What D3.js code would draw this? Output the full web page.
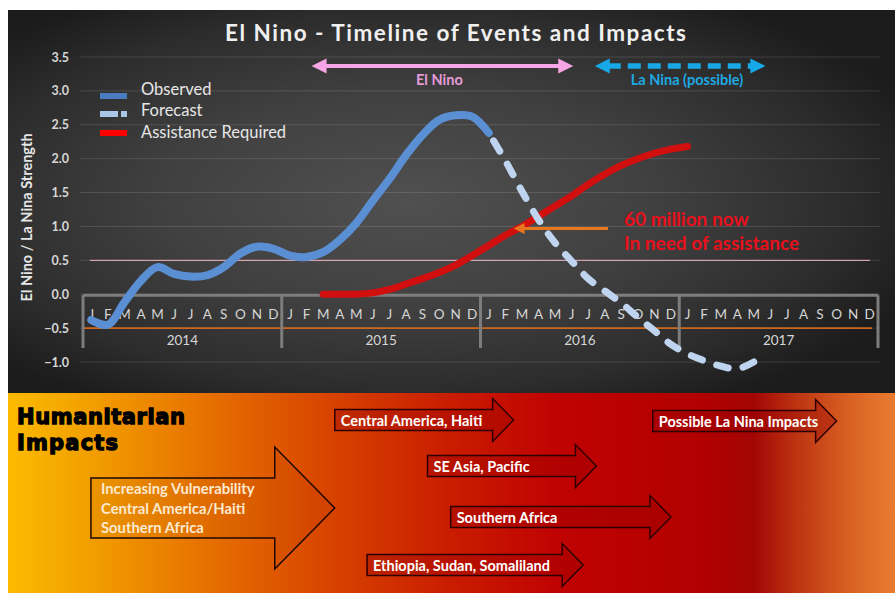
<!DOCTYPE html>
<html><head><meta charset="utf-8">
<script src="https://cdn.jsdelivr.net/npm/d3@7"></script>
<style>body{margin:0;background:#fff} svg{display:block}</style>
</head><body>
<svg id="c" width="895" height="594"></svg>
<script>
// ---------- DATA ----------
const months = ["J","F","M","A","M","J","J","A","S","O","N","D"];
const years = ["2014","2015","2016","2017"];
const yTicks = [-1.0,-0.5,0.0,0.5,1.0,1.5,2.0,2.5,3.0,3.5];
// Observed: Jan 2014 .. Jan 2016 (month index 0..24)
const observed = [-0.38,-0.45,-0.12,0.2,0.4,0.3,0.26,0.28,0.4,0.6,0.7,0.67,
                  0.57,0.55,0.62,0.8,1.05,1.38,1.7,2.05,2.35,2.57,2.64,2.62,
                  2.38];
const observedStart = 0;
// Forecast: Jan 2016 .. May 2017
const forecast = [2.38,1.97,1.52,1.1,0.76,0.49,0.23,0.05,-0.13,-0.34,-0.54,-0.74,
                  -0.88,-0.98,-1.06,-1.1,-1.0];
const forecastStart = 24;
// Assistance required: Mar 2015 .. Jan 2017
const assistance = [0.0,0.0,0.0,0.02,0.07,0.15,0.23,0.32,0.43,0.57,0.72,0.87,
                    1.0,1.15,1.3,1.45,1.62,1.77,1.9,2.0,2.08,2.14,2.18];
const assistanceStart = 14;
// Event periods (month index)
const elNinoSpan = [13.8, 29.6];
const laNinaSpan = [30.9, 41.2];
// Humanitarian impacts (month index start / end)
const impactLabels = ["Central America, Haiti","SE Asia, Pacific","Southern Africa",
                      "Ethiopia, Sudan, Somaliland","Possible La Nina Impacts"];
const impactStart = [15.2, 20.8, 22.2, 17.15, 34.4];
const impactEnd   = [26.0, 31.0, 35.5, 30.2, 45.5];
const vulnLines = ["Increasing Vulnerability","Central America/Haiti","Southern Africa"];
const vulnSpan = [0.48, 15.2];
const noteLines = ["60 million now","In need of assistance"];
const noteArrow = [31.7, 26.0, 0.97]; // from month, to month, value

// ---------- LAYOUT ----------
const svg = d3.select("#c");
const W = 895, H = 594;
const x = d3.scaleLinear().domain([0, 48]).range([83, 878]);
const y = d3.scaleLinear().domain([-1, 3.5]).range([362, 57]);
const mx = i => x(i + 0.5);
const FONT = "Lato, 'Open Sans', sans-serif";

const defs = svg.append("defs");
const rg = defs.append("radialGradient").attr("id","bg")
  .attr("cx","0.45").attr("cy","0.5").attr("r","0.62");
[[0,"#505050"],[0.45,"#404040"],[0.8,"#2c2c2c"],[1,"#1c1c1c"]].forEach(s=>
  rg.append("stop").attr("offset",s[0]).attr("stop-color",s[1]));
const lg = defs.append("linearGradient").attr("id","hum").attr("x1","0").attr("x2","1").attr("y1","0").attr("y2","0");
[[0,"#fbba00"],[0.07,"#f4a600"],[0.22,"#e77200"],[0.36,"#d84400"],[0.5,"#c91c00"],
 [0.62,"#c00202"],[0.78,"#b20000"],[0.84,"#a30505"],[0.89,"#bd3512"],[0.95,"#da6224"],[1,"#e97b30"]]
 .forEach(s=>lg.append("stop").attr("offset",s[0]).attr("stop-color",s[1]));

svg.append("rect").attr("x",8).attr("y",10).attr("width",W-8).attr("height",383).attr("fill","url(#bg)");
svg.append("rect").attr("x",8).attr("y",393).attr("width",W-8).attr("height",200).attr("fill","url(#hum)");

// title
svg.append("text").attr("x",455.5).attr("y",40.5).attr("text-anchor","middle")
  .attr("font-family",FONT).attr("font-weight","bold").attr("font-size",22.5)
  .attr("textLength",461).attr("lengthAdjust","spacing")
  .attr("fill","#f0f0f0").text("El Nino - Timeline of Events and Impacts");

// gridlines
svg.append("g").selectAll("line").data(yTicks).join("line")
  .attr("x1",80).attr("x2",880).attr("y1",d=>y(d)).attr("y2",d=>y(d))
  .attr("stroke","rgba(255,255,255,0.13)").attr("stroke-width",1);

// y axis labels via d3 axis
const yAxis = svg.append("g").attr("transform","translate(80,0)")
  .call(d3.axisLeft(y).tickValues(yTicks).tickFormat(d3.format(".1f")).tickSize(0).tickPadding(11));
yAxis.select(".domain").remove();
yAxis.selectAll("text").attr("font-family",FONT).attr("font-weight","bold")
  .attr("font-size",12.5).attr("fill","#d6d6d6");

// y title
svg.append("text").attr("transform","translate(32,217.5) rotate(-90)").attr("text-anchor","middle")
  .attr("font-family",FONT).attr("font-weight","bold").attr("font-size",14.5)
  .attr("fill","#e6e6e6").text("El Nino / La Nina Strength");

// reference lines
svg.append("line").attr("x1",90).attr("x2",870).attr("y1",y(0.5)).attr("y2",y(0.5))
  .attr("stroke","#f2b5c4").attr("stroke-width",1);
svg.append("line").attr("x1",83).attr("x2",872).attr("y1",y(-0.5)).attr("y2",y(-0.5))
  .attr("stroke","#d0661c").attr("stroke-width",1.6);

// category axis
const axisG = svg.append("g");
axisG.append("line").attr("x1",x(0)).attr("x2",x(48)).attr("y1",y(0)+1).attr("y2",y(0)+1)
  .attr("stroke","#7d7d7d").attr("stroke-width",3);
axisG.selectAll("line.sep").data(d3.range(years.length+1)).join("line").attr("class","sep")
  .attr("x1",d=>x(d*12)).attr("x2",d=>x(d*12)).attr("y1",y(0)+1).attr("y2",348)
  .attr("stroke","#7d7d7d").attr("stroke-width",3);
const allMonths = d3.range(48).map(i=>({i, m:months[i%12]}));
axisG.selectAll("text.m").data(allMonths).join("text").attr("class","m")
  .attr("x",d=>mx(d.i)).attr("y",318.5).attr("text-anchor","middle")
  .attr("font-family",FONT).attr("font-size",13.5).attr("fill","#d6d6d6").text(d=>d.m);
axisG.selectAll("text.yr").data(years).join("text").attr("class","yr")
  .attr("x",(d,i)=>x(i*12+6)).attr("y",344.5).attr("text-anchor","middle")
  .attr("font-family",FONT).attr("font-size",13.5).attr("fill","#d6d6d6").text(d=>d);

// series
const line = d3.line().x(d=>mx(d.i)).y(d=>y(d.v)).curve(d3.curveCatmullRom.alpha(0.5));
const toPts = (arr, s) => arr.map((v,k)=>({i:s+k, v}));
svg.append("path").datum(toPts(assistance, assistanceStart)).attr("d",line)
  .attr("fill","none").attr("stroke","#d20f0f").attr("stroke-width",7).attr("stroke-linecap","round");
svg.append("path").datum(toPts(observed, observedStart)).attr("d",line)
  .attr("fill","none").attr("stroke","#5b8fd3").attr("stroke-width",8)
  .attr("stroke-linecap","round").attr("stroke-linejoin","round");
// forecast drawn from its last point back so the pattern ends with a dash
svg.append("path").datum(toPts(forecast, forecastStart).reverse()).attr("d",line)
  .attr("fill","none").attr("stroke","#bfd4ee").attr("stroke-width",7)
  .attr("stroke-linecap","round").attr("stroke-dasharray","12 15").attr("stroke-dashoffset",0);

// legend
const leg = svg.append("g");
leg.append("rect").attr("x",100).attr("y",93).attr("width",27).attr("height",6).attr("fill","#4a7cc0");
leg.append("rect").attr("x",100).attr("y",111).attr("width",18).attr("height",6).attr("fill","#a9c5e8");
leg.append("rect").attr("x",121).attr("y",111).attr("width",6).attr("height",6).attr("fill","#a9c5e8");
leg.append("rect").attr("x",100).attr("y",130).attr("width",27).attr("height",6).attr("fill","#ff0000");
[["Observed",94.5],["Forecast",116],["Assistance Required",137.5]].forEach(d=>
  leg.append("text").attr("x",141).attr("y",d[1]).attr("font-family",FONT).attr("font-size",16.5)
    .attr("fill","#e6e6e6").text(d[0]));

// event arrows
function dblArrow(g, x0, x1, cy, color, w, dash){
  const hl = 15, hh = 7.5;
  g.append("line").attr("x1",x0+hl-2).attr("x2",x1-hl+2).attr("y1",cy).attr("y2",cy)
    .attr("stroke",color).attr("stroke-width",w).attr("stroke-dasharray",dash||null);
  g.append("path").attr("d",`M${x0},${cy} L${x0+hl},${cy-hh} L${x0+hl},${cy+hh}Z`).attr("fill",color);
  g.append("path").attr("d",`M${x1},${cy} L${x1-hl},${cy-hh} L${x1-hl},${cy+hh}Z`).attr("fill",color);
}
const ev = svg.append("g");
dblArrow(ev, x(elNinoSpan[0]), x(elNinoSpan[1]), 66, "#f6a6e4", 4);
dblArrow(ev, x(laNinaSpan[0]), x(laNinaSpan[1]), 66, "#17a8e8", 5.5, "13 7");
ev.append("text").attr("x",(x(elNinoSpan[0])+x(elNinoSpan[1]))/2-3).attr("y",85).attr("text-anchor","middle")
  .attr("font-family",FONT).attr("font-weight","bold").attr("font-size",14.5).attr("fill","#e39cd8").text("El Nino");
ev.append("text").attr("x",687).attr("y",85).attr("text-anchor","middle")
  .attr("font-family",FONT).attr("font-weight","bold").attr("font-size",14.5).attr("fill","#1ea8e2").text("La Nina (possible)");

// annotation
const nt = svg.append("g");
const ax0 = x(noteArrow[0]), ax1 = x(noteArrow[1]), ay = y(noteArrow[2]);
nt.append("line").attr("x1",ax0).attr("x2",ax1+9).attr("y1",ay).attr("y2",ay).attr("stroke","#e8761e").attr("stroke-width",3);
nt.append("path").attr("d",`M${ax1},${ay} L${ax1+11},${ay-5.5} L${ax1+11},${ay+5.5}Z`).attr("fill","#e8761e");
noteLines.forEach((t,k)=>nt.append("text").attr("x",624).attr("y",225.5+k*24)
  .attr("font-family",FONT).attr("font-weight","bold").attr("font-size",19).attr("fill","#e8101c").text(t));

// humanitarian section
const hum = svg.append("g");
hum.append("text").attr("x",17).attr("y",424).attr("font-family","'DejaVu Sans', sans-serif")
  .attr("font-weight","bold").attr("font-size",21).attr("textLength",168).attr("lengthAdjust","spacing")
  .attr("stroke","#000").attr("stroke-width",1.3).attr("fill","#000").text("Humanitarian");
hum.append("text").attr("x",17).attr("y",450).attr("font-family","'DejaVu Sans', sans-serif")
  .attr("font-weight","bold").attr("font-size",21).attr("textLength",101).attr("lengthAdjust","spacing")
  .attr("stroke","#000").attr("stroke-width",1.3).attr("fill","#000").text("Impacts");

function arrowPath(x0, x1, cy, sh, hh, hl){
  const b = x1 - hl;
  return `M${x0},${cy-sh} L${b},${cy-sh} L${b},${cy-hh} L${x1},${cy} L${b},${cy+hh} L${b},${cy+sh} L${x0},${cy+sh}Z`;
}
// big vulnerability arrow
const vcy = 508;
hum.append("path").attr("d",arrowPath(x(vulnSpan[0]), x(vulnSpan[1]), vcy, 30, 61, 60))
  .attr("fill","rgba(120,30,0,0.06)").attr("stroke","#1e0800").attr("stroke-width",1.5);
vulnLines.forEach((t,k)=>hum.append("text").attr("x",101).attr("y",494+k*19.5)
  .attr("font-family",FONT).attr("font-weight","bold").attr("font-size",14.8).attr("fill","#fbe9cf").text(t));

const rowY = [420, 466, 517, 565, 421];
impactLabels.forEach((t,k)=>{
  const x0 = x(impactStart[k]), x1 = x(impactEnd[k]), cy = rowY[k];
  hum.append("path").attr("d",arrowPath(x0, x1, cy, 10.5, 21.5, 21))
    .attr("fill","rgba(150,0,0,0.35)").attr("stroke","#2e0000").attr("stroke-width",1.5);
  hum.append("text").attr("x",x0+6).attr("y",cy+5.5).attr("font-family",FONT).attr("font-weight","bold")
    .attr("font-size",14.5).attr("fill","#ffffff").text(t);
});
</script>
</body></html>
